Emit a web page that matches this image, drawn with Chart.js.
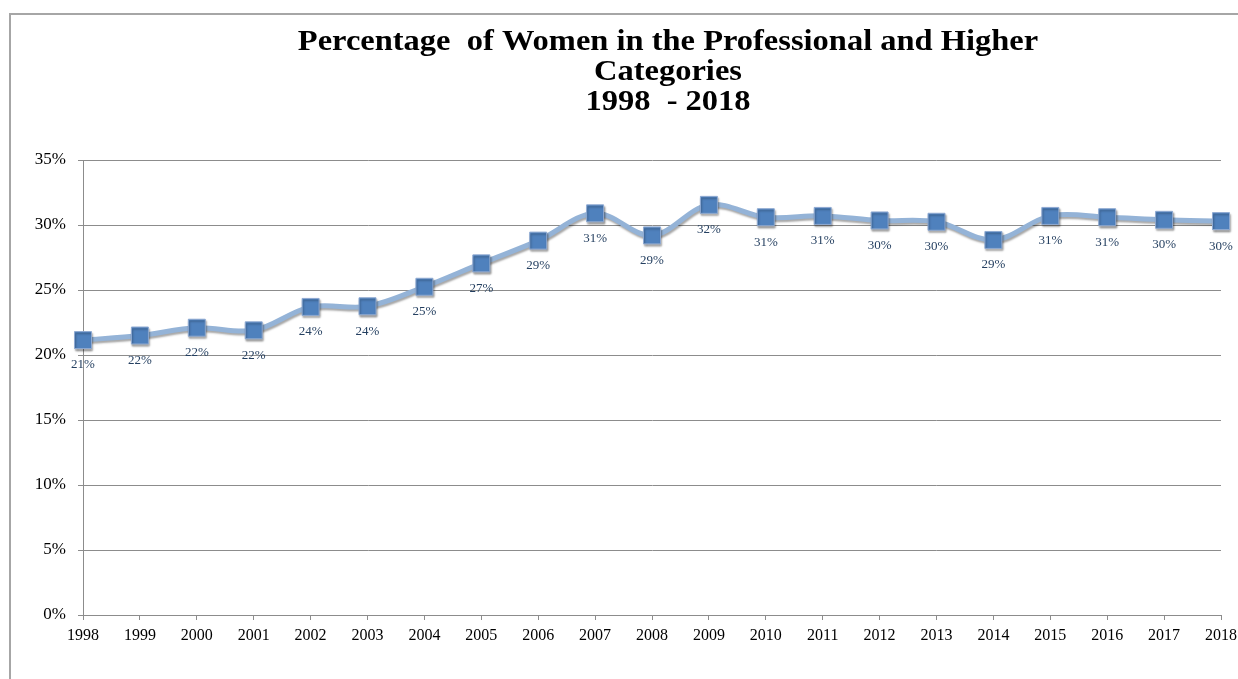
<!DOCTYPE html>
<html>
<head>
<meta charset="utf-8">
<script src="https://cdn.jsdelivr.net/npm/chart.js@4"></script>
<style>
  html, body { margin: 0; padding: 0; background: #fff; }
  #wrap { width: 1238px; height: 679px; position: relative; }
</style>
</head>
<body>
<div id="wrap"><canvas id="chart"></canvas></div>
<script>
const years = ['1998','1999','2000','2001','2002','2003','2004','2005','2006','2007','2008',
  '2009','2010','2011','2012','2013','2014','2015','2016','2017','2018'];
const womenPct = [21.15, 21.5, 22.1, 21.9, 23.7, 23.75, 25.25, 27.05, 28.8, 30.9, 29.2,
  31.55, 30.6, 30.7, 30.35, 30.25, 28.85, 30.7, 30.6, 30.4, 30.3];
const titleLines = ['Percentage  of Women in the Professional and Higher', 'Categories', '1998  - 2018'];

const serif = "'Liberation Serif', 'Times New Roman', serif";

// frame lines + title, drawn straight on the canvas
const framePlugin = {
  id: 'frame',
  beforeDraw(chart) {
    const c = chart.ctx;
    c.save();
    c.strokeStyle = '#a6a6a6';
    c.lineWidth = 2;
    c.beginPath();
    c.moveTo(10, 679);
    c.lineTo(10, 14);
    c.lineTo(1238, 14);
    c.stroke();
    c.restore();
  },
  afterDraw(chart) {
    const c = chart.ctx;
    c.save();
    c.fillStyle = '#000';
    c.font = 'bold 29px ' + serif;
    c.textAlign = 'center';
    c.textBaseline = 'alphabetic';
    // the original title is set a little wider than the font
    c.translate(668, 0);
    c.scale(1.12, 1);
    titleLines.forEach((t, i) => c.fillText(t, 0, 50 + i * 30));
    c.restore();
  }
};

// soft shadow under the smoothed line
const shadowPlugin = {
  id: 'lineShadow',
  beforeDatasetsDraw(chart) {
    const c = chart.ctx;
    c.save();
    c.shadowColor = 'rgba(0,0,0,0.35)';
    c.shadowBlur = 2;
    c.shadowOffsetX = 1;
    c.shadowOffsetY = 2;
  },
  afterDatasetsDraw(chart) {
    chart.ctx.restore();
  }
};

// value labels under each marker
const valueLabels = {
  id: 'valueLabels',
  afterDatasetsDraw(chart) {
    const c = chart.ctx;
    const meta = chart.getDatasetMeta(0);
    c.save();
    c.fillStyle = '#243F60';
    c.font = '13px ' + serif;
    c.textAlign = 'center';
    c.textBaseline = 'middle';
    meta.data.forEach((pt, i) => {
      c.fillText(Math.round(womenPct[i]) + '%', pt.x, pt.y + 25);
    });
    c.restore();
  }
};

new Chart(document.getElementById('chart'), {
  type: 'line',
  data: {
    labels: years,
    datasets: [{
      data: womenPct,
      borderColor: '#94B3D7',
      borderWidth: 5,
      tension: 0.35,
      pointStyle: 'rect',
      pointRadius: 12,
      pointHoverRadius: 12,
      pointBackgroundColor: '#4F81BD',
      pointBorderColor: '#8FAAD2',
      pointBorderWidth: 1,
      clip: false
    }]
  },
  options: {
    responsive: true,
    maintainAspectRatio: false,
    animation: false,
    layout: { padding: { top: 160, right: 17, bottom: 0, left: 0 } },
    plugins: {
      legend: { display: false },
      title: { display: false },
      tooltip: { enabled: false }
    },
    scales: {
      x: {
        offset: false,
        afterFit(scale) {
          scale.height = 64;
          scale.paddingLeft = 0;
          scale.paddingRight = 0;
        },
        border: { color: '#8c8c8c', width: 1 },
        grid: { drawOnChartArea: false, drawTicks: true, tickLength: 5, color: '#8c8c8c' },
        ticks: { color: '#000', font: { family: serif, size: 16 }, padding: 6, maxRotation: 0, autoSkip: false }
      },
      y: {
        min: 0,
        max: 35,
        afterFit(scale) { scale.width = 83; },
        border: { color: '#8c8c8c', width: 1 },
        grid: { color: '#8c8c8c', tickLength: 5 },
        ticks: {
          stepSize: 5,
          color: '#000',
          font: { family: serif, size: 17 },
          padding: 12,
          callback: v => v + '%'
        }
      }
    }
  },
  plugins: [framePlugin, shadowPlugin, valueLabels]
});
</script>
</body>
</html>
